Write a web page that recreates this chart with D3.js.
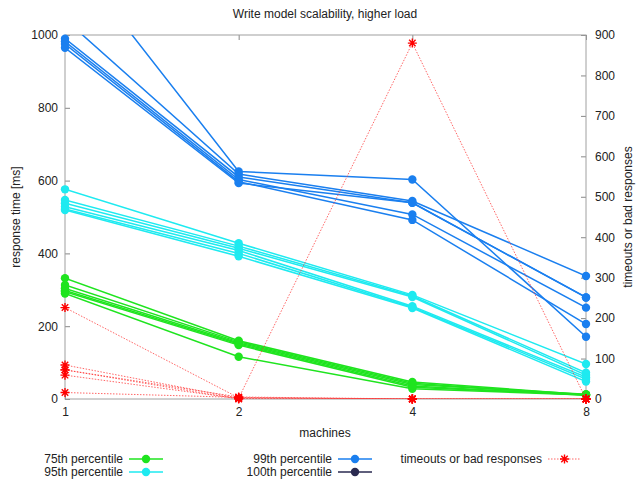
<!DOCTYPE html>
<html>
<head>
<meta charset="utf-8">
<script src="https://cdn.jsdelivr.net/npm/d3@7"></script>
<style>
  body { margin: 0; background: #fff; }
  svg { font-family: "Liberation Sans", Arial, sans-serif; font-size: 12px; }
</style>
</head>
<body>
<div class="chart"></div>
<script>
// machines on the x axis, each run is one line: values at 1, 2, 4, 8 machines
const machines = [1, 2, 4, 8];

const p75 = [
    [332, 160, 47, 12],
    [313, 157, 43, 11],
    [304, 154, 40, 13],
    [298, 151, 36, 10],
    [295, 148, 32, 12],
    [290, 116, 28, 11]
];
const p95 = [
    [576, 428, 286, 96],
    [547, 420, 283, 72],
    [538, 414, 280, 66],
    [528, 408, 255, 60],
    [522, 400, 252, 55],
    [519, 392, 250, 48]
];
const p99 = [
    [1236, 625, 603, 171],
    [1043, 618, 544, 338],
    [990, 610, 539, 279],
    [982, 603, 507, 251],
    [975, 597, 492, 206],
    [965, 593, 539, 279]
];
// 100th percentile lies above the plotted range everywhere
const p100 = [
    [2600, 1900, 1500, 1300],
    [2400, 1800, 1400, 1250],
    [2300, 1700, 1350, 1200]
];
// right axis
const timeouts = [
    [226, 3, 0, 0],
    [84, 2, 880, 0],
    [72, 5, 0, 0],
    [59, 1, 0, 0],
    [16, 4, 0, 0],
    [72, 0, 0, 0]
];

const leftTicks = [0, 200, 400, 600, 800, 1000];
const rightTicks = [0, 100, 200, 300, 400, 500, 600, 700, 800, 900];

const W = 636, H = 482;
const m = {left: 65, right: 586, top: 35, bottom: 399};

const svg = d3.select('.chart').append('svg')
    .attr('width', W)
    .attr('height', H);

const x = d3.scaleLog().base(2).domain([1, 8]).range([m.left, m.right]);
const y = d3.scaleLinear().domain([0, 1000]).range([m.bottom, m.top]);
const y2 = d3.scaleLinear().domain([0, 900]).range([m.bottom, m.top]);

svg.append('defs').append('clipPath').attr('id', 'plot')
    .append('rect')
    .attr('x', m.left).attr('y', m.top)
    .attr('width', m.right - m.left).attr('height', m.bottom - m.top);

// axes
const styleAxis = g => {
    g.select('.domain').remove();
    g.selectAll('.tick line').attr('stroke', '#888');
    g.selectAll('.tick text').attr('fill', '#222').style('font-size', '12px')
        .style('font-family', '"Liberation Sans", Arial, sans-serif');
};

svg.append('g')
    .attr('transform', `translate(${m.left},0)`)
    .call(d3.axisLeft(y).tickValues(leftTicks).tickFormat(d3.format('d')).tickSize(-5).tickPadding(7))
    .call(styleAxis);

svg.append('g')
    .attr('transform', `translate(${m.right},0)`)
    .call(d3.axisRight(y2).tickValues(rightTicks).tickFormat(d3.format('d')).tickSize(-5).tickPadding(9))
    .call(styleAxis);

svg.append('g')
    .attr('transform', `translate(0,${m.bottom})`)
    .call(d3.axisBottom(x).tickValues(machines).tickFormat(d3.format('d')).tickSize(-5).tickPadding(8))
    .call(styleAxis);

svg.append('g')
    .attr('transform', `translate(0,${m.top})`)
    .call(d3.axisTop(x).tickValues(machines).tickFormat('').tickSize(-5))
    .call(styleAxis);

svg.append('rect')
    .attr('x', m.left).attr('y', m.top)
    .attr('width', m.right - m.left).attr('height', m.bottom - m.top)
    .attr('fill', 'none')
    .attr('stroke', '#a0a0a0');

// series
const series = [
    {name: '75th percentile', data: p75, color: '#1fe41f', scale: y},
    {name: '95th percentile', data: p95, color: '#1eeaf0', scale: y},
    {name: '99th percentile', data: p99, color: '#1a7fef', scale: y},
    {name: '100th percentile', data: p100, color: '#2a2a50', scale: y}
];

const plot = svg.append('g');

series.forEach(s => {
    const line = d3.line()
        .x((d, i) => x(machines[i]))
        .y(d => s.scale(d));

    plot.append('g')
        .attr('clip-path', 'url(#plot)')
        .selectAll('path')
        .data(s.data)
        .join('path')
            .attr('d', line)
            .attr('fill', 'none')
            .attr('stroke', s.color)
            .attr('stroke-width', 1.5);

    const pts = s.data.flatMap(run => run.map((v, i) => ({m: machines[i], v})))
        .filter(p => p.v <= s.scale.domain()[1]);
    plot.append('g')
        .selectAll('circle')
        .data(pts)
        .join('circle')
            .attr('cx', d => x(d.m))
            .attr('cy', d => s.scale(d.v))
            .attr('r', 4.2)
            .attr('fill', s.color);
});

// timeouts: thin dotted red lines with asterisks
const star = (g, cx, cy) => {
    const r = 4.5, d = r * 0.72;
    g.append('path')
        .attr('d', `M${cx - r},${cy}H${cx + r}M${cx},${cy - r}V${cy + r}` +
            `M${cx - d},${cy - d}L${cx + d},${cy + d}M${cx - d},${cy + d}L${cx + d},${cy - d}`)
        .attr('stroke', '#f00')
        .attr('stroke-width', 1.4);
};

const tLine = d3.line()
    .x((d, i) => x(machines[i]))
    .y(d => y2(d));

plot.append('g')
    .attr('clip-path', 'url(#plot)')
    .selectAll('path')
    .data(timeouts)
    .join('path')
        .attr('d', tLine)
        .attr('fill', 'none')
        .attr('stroke', '#f33')
        .attr('stroke-opacity', 0.75)
        .attr('stroke-width', 1)
        .attr('stroke-dasharray', '1.5,1.5');

const starG = plot.append('g');
timeouts.forEach(run => run.forEach((v, i) => star(starG, x(machines[i]), y2(v))));

// texts
svg.append('text')
    .attr('x', 325).attr('y', 18)
    .attr('text-anchor', 'middle')
    .attr('fill', '#222')
    .text('Write model scalability, higher load');

svg.append('text')
    .attr('x', 325).attr('y', 437)
    .attr('text-anchor', 'middle')
    .attr('fill', '#222')
    .text('machines');

svg.append('text')
    .attr('transform', 'translate(20,217) rotate(-90)')
    .attr('text-anchor', 'middle')
    .attr('fill', '#222')
    .text('response time [ms]');

svg.append('text')
    .attr('transform', 'translate(632,217) rotate(-90)')
    .attr('text-anchor', 'middle')
    .attr('fill', '#222')
    .text('timeouts or bad responses');

// legend
const legend = [
    {s: series[0], tx: 123, ty: 459},
    {s: series[1], tx: 123, ty: 472},
    {s: series[2], tx: 332, ty: 459},
    {s: series[3], tx: 332, ty: 472}
];
legend.forEach(l => {
    svg.append('text')
        .attr('x', l.tx).attr('y', l.ty + 4)
        .attr('text-anchor', 'end')
        .attr('fill', '#222')
        .text(l.s.name);
    svg.append('line')
        .attr('x1', l.tx + 6).attr('x2', l.tx + 40)
        .attr('y1', l.ty).attr('y2', l.ty)
        .attr('stroke', l.s.color)
        .attr('stroke-width', 1.5);
    svg.append('circle')
        .attr('cx', l.tx + 23).attr('cy', l.ty)
        .attr('r', 4.2)
        .attr('fill', l.s.color);
});

svg.append('text')
    .attr('x', 542).attr('y', 463)
    .attr('text-anchor', 'end')
    .attr('fill', '#222')
    .text('timeouts or bad responses');
svg.append('line')
    .attr('x1', 548).attr('x2', 581)
    .attr('y1', 459).attr('y2', 459)
    .attr('stroke', '#f33')
    .attr('stroke-opacity', 0.75)
    .attr('stroke-dasharray', '1.5,1.5');
star(svg, 564.5, 459);
</script>
</body>
</html>
